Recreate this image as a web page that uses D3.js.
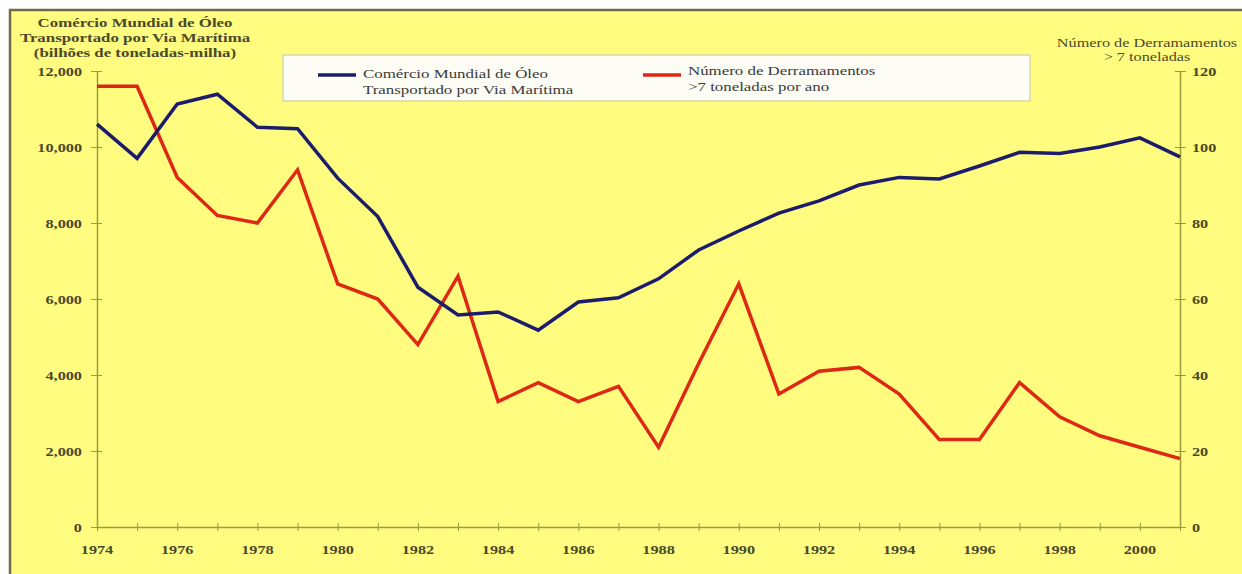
<!DOCTYPE html>
<html>
<head>
<meta charset="utf-8">
<script src="https://cdn.jsdelivr.net/npm/d3@7"></script>
<style>
  html, body { margin: 0; padding: 0; background: #fff; }
  svg { display: block; }
</style>
</head>
<body>
<svg id="chart"></svg>
<script>
// Data
const years = d3.range(1974, 2002);
const trade = [10600, 9700, 11130, 11390, 10520, 10480, 9180, 8170, 6310, 5580,
  5660, 5180, 5920, 6030, 6530, 7290, 7790, 8260, 8580, 9000,
  9200, 9160, 9500, 9860, 9830, 10000, 10240, 9740];
const spills = [116, 116, 92, 82, 80, 94, 64, 60, 48, 66,
  33, 38, 33, 37, 21, 43, 64, 35, 41, 42,
  35, 23, 23, 38, 29, 24, 21, 18];
const leftTicks = [0, 2000, 4000, 6000, 8000, 10000, 12000];
const rightTicks = [0, 20, 40, 60, 80, 100, 120];
const leftTitle = ["Comércio Mundial de Óleo", "Transportado por Via Marítima", "(bilhões de toneladas-milha)"];
const rightTitle = ["Número de Derramamentos", "> 7 toneladas"];
const legendItems = [
  { lines: ["Comércio Mundial de Óleo", "Transportado por Via Marítima"], color: "#1c1c6c" },
  { lines: ["Número de Derramamentos", ">7 toneladas por ano"], color: "#dc2814" }
];

const W = 1242, H = 574;
const sx = 1.25; // reference is stretched horizontally
const bg = "#fffc80";
const axisColor = "#9c9a3c";
const labelColor = "#4a4a2a";
const serif = "'Liberation Serif', 'DejaVu Serif', serif";

const svg = d3.select("#chart").attr("width", W).attr("height", H);

// background + frame
svg.append("rect").attr("width", W).attr("height", H).attr("fill", "#fff");
svg.append("rect").attr("x", 10).attr("y", 10).attr("width", W - 10).attr("height", H - 10).attr("fill", bg);
svg.append("path").attr("d", `M10,${H}V10H${W}`).attr("fill", "none")
  .attr("stroke", "#6e6c48").attr("stroke-width", 2.5);

const x = d3.scaleLinear().domain([1974, 2001]).range([97, 1180]);
const yL = d3.scaleLinear().domain([0, 12000]).range([527, 71]);
const yR = d3.scaleLinear().domain([0, 120]).range([527, 71]);

// stretched text helper
function label(parent, px, py, str, anchor, size, weight, fill) {
  return parent.append("text")
    .attr("transform", `translate(${px},${py}) scale(${sx},1)`)
    .attr("text-anchor", anchor)
    .attr("font-family", serif)
    .attr("font-size", size)
    .attr("font-weight", weight)
    .attr("fill", fill)
    .text(str);
}

// x axis
const xAxis = svg.append("g").attr("transform", `translate(0,${yL(0)})`)
  .call(d3.axisBottom(x).tickValues(years).tickSizeOuter(0).tickFormat(""));
xAxis.select(".domain").attr("stroke", axisColor).attr("stroke-width", 1.5);
xAxis.selectAll(".tick line").attr("stroke", axisColor).attr("y1", -4).attr("y2", 4);
years.filter(d => d % 2 === 0).forEach(d => {
  label(svg, x(d), 554, d, "middle", 13, "bold", labelColor);
});

// left axis
const lAxis = svg.append("g").attr("transform", `translate(${x(1974)},0)`)
  .call(d3.axisLeft(yL).tickValues(leftTicks).tickSizeOuter(0).tickFormat(""));
lAxis.select(".domain").attr("stroke", axisColor).attr("stroke-width", 1.5);
lAxis.selectAll(".tick line").attr("stroke", axisColor).attr("x1", 5).attr("x2", -6);
leftTicks.forEach(d => {
  label(svg, 82, yL(d) + 4.5, d3.format(",")(d), "end", 13, "bold", labelColor);
});

// right axis
const rAxis = svg.append("g").attr("transform", `translate(${x(2001)},0)`)
  .call(d3.axisRight(yR).tickValues(rightTicks).tickSizeOuter(0).tickFormat(""));
rAxis.select(".domain").attr("stroke", axisColor).attr("stroke-width", 1.5);
rAxis.selectAll(".tick line").attr("stroke", axisColor).attr("x1", -5).attr("x2", 6);
rightTicks.forEach(d => {
  label(svg, 1192, yR(d) + 4.5, d, "start", 13, "bold", labelColor);
});

// axis titles
leftTitle.forEach((t, i) => {
  label(svg, 135, 27 + i * 15, t, "middle", 13.5, "bold", labelColor);
});
rightTitle.forEach((t, i) => {
  label(svg, 1147, 47 + i * 14, t, "middle", 13, "normal", labelColor);
});

// legend
const leg = svg.append("g");
leg.append("rect").attr("x", 283).attr("y", 55).attr("width", 747).attr("height", 46)
  .attr("fill", "#fdfdf6").attr("stroke", "#d8d6a8").attr("stroke-width", 1.5);
legendItems.forEach((item, i) => {
  const lx = 318 + i * 325;
  leg.append("line").attr("x1", lx).attr("x2", lx + 38).attr("y1", 75).attr("y2", 75)
    .attr("stroke", item.color).attr("stroke-width", 3.5);
  const top = i === 0 ? 78 : 75;
  item.lines.forEach((t, j) => {
    label(leg, lx + 45, top + j * 16, t, "start", 13.5, "normal", "#3a3a3a");
  });
});

// series
const lineTrade = d3.line().x((d, i) => x(years[i])).y(d => yL(d));
const lineSpills = d3.line().x((d, i) => x(years[i])).y(d => yR(d));

svg.append("path").datum(spills).attr("d", lineSpills)
  .attr("fill", "none").attr("stroke", "#dc2814").attr("stroke-width", 3.5)
  .attr("stroke-linejoin", "miter");
svg.append("path").datum(trade).attr("d", lineTrade)
  .attr("fill", "none").attr("stroke", "#1c1c6c").attr("stroke-width", 3.5)
  .attr("stroke-linejoin", "miter");
</script>
</body>
</html>
